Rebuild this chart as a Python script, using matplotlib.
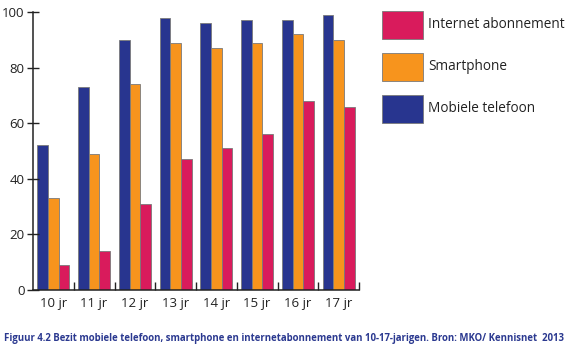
import numpy as np
import matplotlib.pyplot as plt
from matplotlib.patches import Rectangle

plt.rcParams['font.family'] = ['Open Sans', 'DejaVu Sans']

leeftijd = ['10 jr', '11 jr', '12 jr', '13 jr', '14 jr', '15 jr', '16 jr', '17 jr']
mobiel = [52, 73, 90, 98, 96, 97, 97, 99]
smartphone = [33, 49, 74, 89, 87, 89, 92, 90]
internet = [9, 14, 31, 47, 51, 56, 68, 66]

blauw = '#28358f'
oranje = '#f7941d'
roze = '#d91b5c'
rand = '#7a7a7a'

W, H = 570, 353
fig = plt.figure(figsize=(W / 100, H / 100), dpi=100)
ax = fig.add_axes([33/W, 1 - 290/H, 326/W, 278/H])

x = np.arange(len(leeftijd))
w = 0.26
b1 = ax.bar(x - w, mobiel, w, color=blauw, edgecolor=rand, linewidth=0.6, label='Mobiele telefoon')
b2 = ax.bar(x, smartphone, w, color=oranje, edgecolor=rand, linewidth=0.6, label='Smartphone')
b3 = ax.bar(x + w, internet, w, color=roze, edgecolor=rand, linewidth=0.6, label='Internet abonnement')

ax.set_xlim(-0.5, len(leeftijd) - 0.5)
ax.set_ylim(0, 100)
ax.set_yticks(range(0, 101, 20))
ax.tick_params(axis='y', direction='inout', length=8, width=1, labelsize=9.5, pad=2, colors='#222222')

# group boundaries as minor ticks, labels centred as major ticks
ax.set_xticks(x)
ax.set_xticklabels(leeftijd)
ax.set_xticks(np.arange(0.5, len(leeftijd)), minor=True)
ax.tick_params(axis='x', which='major', length=0, labelsize=9.5, pad=5, colors='#222222')
ax.tick_params(axis='x', which='minor', direction='in', length=6, width=1, color='#222222')

for s in ['top', 'right']:
    ax.spines[s].set_visible(False)
for s in ['left', 'bottom']:
    ax.spines[s].set_linewidth(1.1)
    ax.spines[s].set_color('#222222')

# legend drawn by hand: big swatches, internet on top
for i, b in enumerate([b3, b2, b1]):
    top = 11 + 42 * i
    fig.add_artist(Rectangle((382 / W, 1 - (top + 28) / H), 41 / W, 28 / H,
                             facecolor=b.patches[0].get_facecolor(), edgecolor=rand,
                             linewidth=0.6, transform=fig.transFigure))
    fig.text(428 / W, 1 - (top + 14) / H, b.get_label(), fontsize=9.8,
             color='#222222', va='center', ha='left')

fig.text(4/W, 1 - 338/H,
         'Figuur 4.2 Bezit mobiele telefoon, smartphone en internetabonnement van 10-17-jarigen. Bron: MKO/ Kennisnet  2013',
         fontsize=6.95, fontweight='bold', color='#2b3990', va='center', ha='left')

fig.savefig('out.png', dpi=100)
